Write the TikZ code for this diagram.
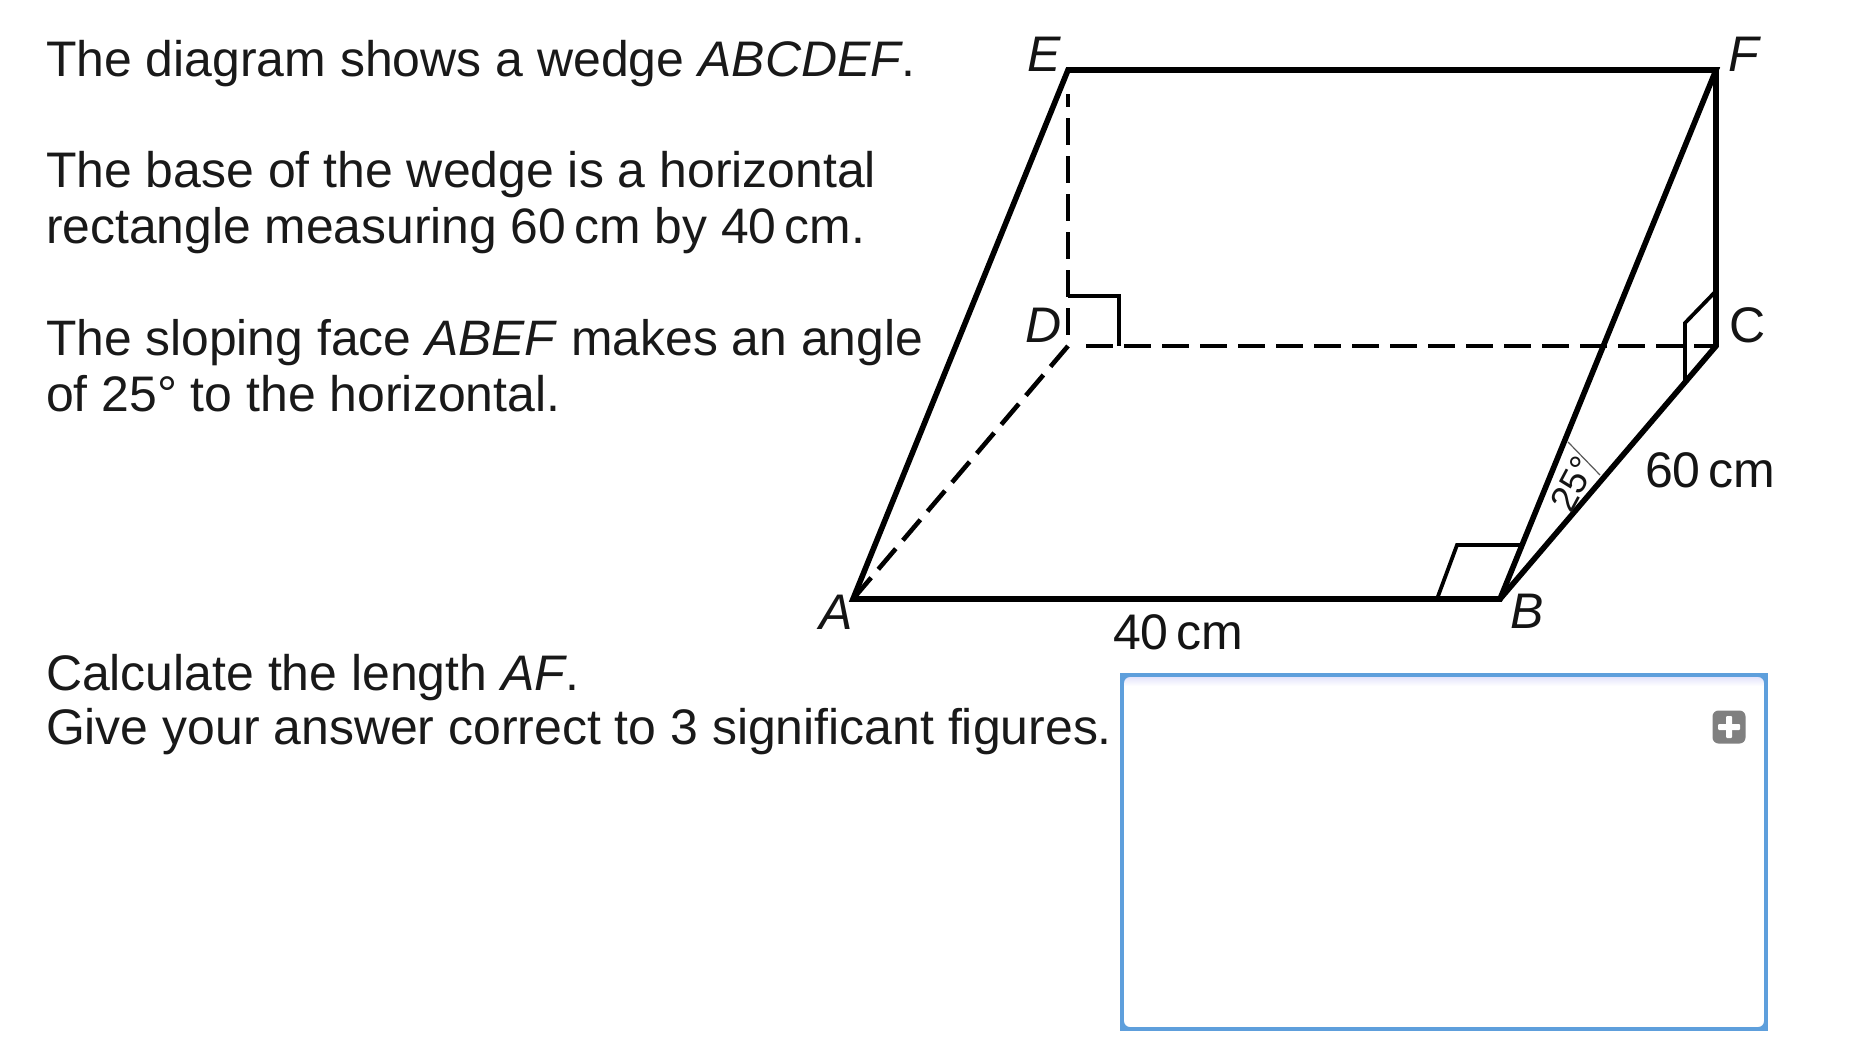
\documentclass[tikz,border=0pt]{standalone}
\usepackage{fontspec}
\setmainfont{Liberation Sans}
\begin{document}
\begin{tikzpicture}[x=1pt,y=-1pt,
  txt/.style={anchor=base west,inner sep=0pt,outer sep=0pt,font=\fontsize{49.95}{55}\selectfont,text=black!90},
  txtb/.style={txt,font=\fontsize{49.8}{55}\selectfont},
  lbl/.style={anchor=base west,inner sep=0pt,outer sep=0pt,font=\fontsize{50}{55}\selectfont,text=black!92},
  solidedge/.style={line width=5.6pt,line join=miter,black},
  dashedge/.style={line width=4.6pt,black,dash pattern=on 27pt off 11pt},
  rightmark/.style={line width=3.8pt,black,line join=miter},
  anglemark/.style={line width=1.2pt,black!65},
  answer/.style={line width=3.8pt,draw=boxblue}]
\definecolor{boxblue}{HTML}{5E9FDC}
\definecolor{iconblue}{HTML}{808080}
\useasboundingbox (0,0) rectangle (1853,1057);
\fill[white] (0,0) rectangle (1853,1057);
% text
\node[txt] (t1) at (46,77) {The diagram shows a wedge \textit{ABCDEF}.};
\node[txt] (t2) at (46,187) {The base of the wedge is a horizontal};
\node[txtb] (t3) at (46,243) {rectangle measuring 60\,cm by 40\,cm.};
\node[txtb] (t4) at (46,355) {The sloping face \textit{ABEF} makes an angle};
\node[txt] (t5) at (46,411) {of 25° to the horizontal.};
\node[txt] (t6) at (46,690) {Calculate the length \textit{AF}.};
\node[txt] (t7) at (46,744) {Give your answer correct to 3 significant figures.};
% wedge points
\coordinate (A) at (853,599);
\coordinate (B) at (1500,599);
\coordinate (C) at (1716,346);
\coordinate (D) at (1068,346);
\coordinate (E) at (1068,70);
\coordinate (F) at (1716,70);
% hidden edges
\draw[dashedge,dash phase=14pt] (E) ++(0,24) -- (D);
\draw[dashedge] (1086,346) -- (C);
\draw[dashedge] (D) -- (A);
% right-angle marks
\draw[rightmark] (1068,296) -- (1119,296) -- (1119,346);
\draw[rightmark] (1716,291) -- (1685,323) -- (1685,380);
\draw[rightmark] (1437,599) -- (1457,545) -- (1520,545);
\draw[anglemark] (1568,442) -- (1600,475);
% solid edges
\draw[solidedge] (A) -- (E) -- (F) -- (B) -- cycle;
\draw[solidedge] (F) -- (C) -- (B);
% labels
\node[lbl] (lE) at (1027,71) {\textit{E}};
\node[lbl] (lF) at (1728,71) {\textit{F}};
\node[lbl] (lD) at (1025,342) {\textit{D}};
\node[lbl] (lC) at (1729,342) {C};
\node[lbl] (lA) at (819,629) {\textit{A}};
\node[lbl] (lB) at (1510,628) {\textit{B}};
\node[lbl] (l40) at (1113,649) {40\,cm};
\node[lbl] (l60) at (1645,487) {60\,cm};
\node[inner sep=0pt,rotate=62,font=\fontsize{37}{40}\selectfont,text=black!92] (l25) at (1573,484) {25°};
% answer box
\shade[top color=black!15!blue!12,bottom color=white] (1122,676) rectangle (1765,686);
\draw[answer] (1122,675) rectangle (1766,1029);
\draw[answer,rounded corners=8pt] (1122,675) rectangle (1766,1029);
\node[fill=iconblue,rounded corners=6pt,minimum size=33pt,inner sep=0pt] (plus) at (1729,727) {};
\fill[white,rounded corners=1pt] (1718,724) rectangle (1740,730);
\fill[white,rounded corners=1pt] (1726,716) rectangle (1732,738);
\end{tikzpicture}
\end{document}
